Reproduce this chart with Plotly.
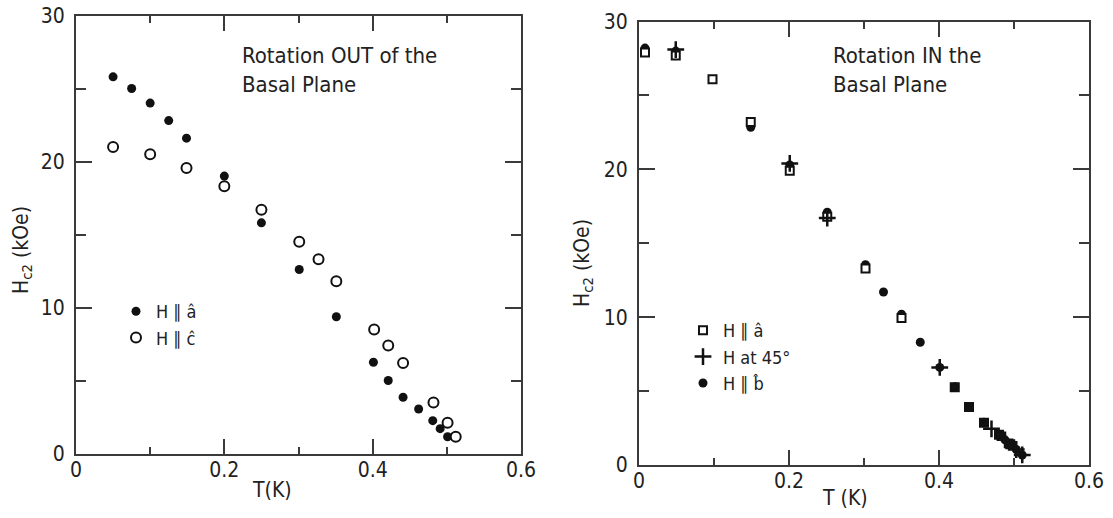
import plotly.graph_objects as go

# ---------------- data ----------------
# Left panel: rotation OUT of the basal plane
left_T_a = [0.050, 0.075, 0.100, 0.125, 0.149, 0.200, 0.250, 0.301, 0.351, 0.401,
            0.421, 0.441, 0.462, 0.481, 0.491, 0.501]
left_H_a = [25.8, 25.0, 24.0, 22.8, 21.6, 19.0, 15.8, 12.6, 9.37, 6.25,
            5.0, 3.85, 3.05, 2.25, 1.7, 1.15]
left_T_c = [0.050, 0.100, 0.149, 0.200, 0.250, 0.301, 0.327, 0.351, 0.402, 0.421,
            0.441, 0.482, 0.501, 0.512]
left_H_c = [21.0, 20.5, 19.55, 18.3, 16.7, 14.5, 13.3, 11.8, 8.5, 7.4,
            6.2, 3.5, 2.1, 1.15]

# Right panel: rotation IN the basal plane
right_T_a = [0.008, 0.049, 0.098, 0.149, 0.201, 0.251, 0.302, 0.350, 0.421, 0.440,
             0.460, 0.480, 0.495]
right_H_a = [27.9, 27.7, 26.1, 23.2, 19.9, 16.8, 13.3, 9.95, 5.26, 3.92,
             2.86, 2.05, 1.4]
right_T_b = [0.008, 0.049, 0.149, 0.201, 0.251, 0.302, 0.326, 0.350, 0.375, 0.401,
             0.421, 0.440, 0.460, 0.488, 0.503, 0.511]
right_H_b = [28.2, 28.0, 22.85, 20.3, 17.1, 13.55, 11.7, 10.2, 8.3, 6.6,
             5.3, 3.95, 2.9, 1.7, 1.05, 0.68]
right_T_45 = [0.049, 0.201, 0.251, 0.401, 0.470, 0.488, 0.503, 0.511]
right_H_45 = [28.1, 20.4, 16.7, 6.6, 2.45, 1.7, 1.05, 0.68]

x_ticks = [0, 0.2, 0.4, 0.6]
x_tick_text = ["0", "0.2", "0.4", "0.6"]
x_minor = [0.1, 0.3, 0.5]
y_ticks = [0, 10, 20, 30]
y_tick_text = ["0", "10", "20", "30"]
y_minor = [5, 15, 25]

left_title = "Rotation OUT of the<br>Basal Plane"
right_title = "Rotation IN the<br>Basal Plane"
left_x_label = "T(K)"
right_x_label = "T (K)"
y_label = "H<sub>c2</sub> (kOe)"

# ---------------- styling ----------------
W, H = 1113, 518
FONT = "Liberation Sans Narrow, DejaVu Sans Condensed, Arial Narrow, Liberation Sans, sans-serif"
INK = "#111111"
AX = "#3a3a3a"


def px_x(p):
    return p / W


def px_y(p):
    return 1 - p / H


fig = go.Figure()

# left panel
fig.add_trace(go.Scatter(x=left_T_a, y=left_H_a, mode="markers", name="H ∥ â",
                         marker=dict(symbol="circle", size=9, color=INK, line=dict(width=0)),
                         xaxis="x", yaxis="y", legend="legend"))
fig.add_trace(go.Scatter(x=left_T_c, y=left_H_c, mode="markers", name="H ∥ ĉ",
                         marker=dict(symbol="circle", size=10, color="white",
                                     line=dict(width=2, color=INK)),
                         xaxis="x", yaxis="y", legend="legend"))

# right panel: circles first, squares over them, crosses on top
sq_fill = [INK if t > 0.41 else "white" for t in right_T_a]
fig.add_trace(go.Scatter(x=right_T_b, y=right_H_b, mode="markers", name="H ∥ b̂",
                         marker=dict(symbol="circle", size=9, color=INK, line=dict(width=0)),
                         xaxis="x2", yaxis="y2", legend="legend2", legendrank=3))
fig.add_trace(go.Scatter(x=right_T_a, y=right_H_a, mode="markers", name="H ∥ â",
                         marker=dict(symbol="square", size=8, color=sq_fill,
                                     line=dict(width=2, color=INK)),
                         xaxis="x2", yaxis="y2", legend="legend2", legendrank=1))
fig.add_trace(go.Scatter(x=right_T_45, y=right_H_45, mode="markers", name="H at 45°",
                         marker=dict(symbol="cross-thin", size=12, color=INK,
                                     line=dict(width=2.5, color=INK)),
                         xaxis="x2", yaxis="y2", legend="legend2", legendrank=2))

common_x = dict(range=[0, 0.6], tickvals=x_ticks, ticktext=x_tick_text, automargin=False,
                ticks="inside", ticklen=15, tickwidth=1.5, tickcolor=AX,
                minor=dict(tickvals=x_minor, ticks="inside", ticklen=7, tickwidth=1.5, tickcolor=AX),
                showline=True, linecolor=AX, linewidth=2, mirror="allticks",
                showgrid=False, zeroline=False, fixedrange=True, ticklabelstandoff=-4,
                tickfont=dict(family=FONT, size=21, color="#222"))
common_y = dict(range=[0, 30], tickvals=y_ticks, ticktext=y_tick_text, automargin=False,
                ticks="inside", ticklen=16, tickwidth=1.5, tickcolor=AX,
                minor=dict(tickvals=y_minor, ticks="inside", ticklen=10, tickwidth=1.5, tickcolor=AX),
                showline=True, linecolor=AX, linewidth=2, mirror="allticks",
                showgrid=False, zeroline=False, fixedrange=True, ticklabelstandoff=5,
                tickfont=dict(family=FONT, size=21, color="#222"))

fig.update_layout(
    width=W, height=H, autosize=False,
    margin=dict(l=0, r=0, t=0, b=0, pad=0, autoexpand=False),
    paper_bgcolor="white", plot_bgcolor="white",
    font=dict(family=FONT, color="#222"),
    xaxis=dict(domain=[px_x(76), px_x(521)], anchor="y", **common_x),
    yaxis=dict(domain=[px_y(453.5), px_y(15.5)], anchor="x", **common_y),
    xaxis2=dict(domain=[px_x(639), px_x(1089)], anchor="y2", **common_x),
    yaxis2=dict(domain=[px_y(465), px_y(21.5)], anchor="x2", **common_y),
    legend=dict(x=px_x(116), xanchor="left", y=px_y(293), yanchor="top",
                bgcolor="rgba(0,0,0,0)", font=dict(family=FONT, size=18, color="#222"),
                itemsizing="trace", tracegroupgap=0),
    legend2=dict(x=px_x(683), xanchor="left", y=px_y(312), yanchor="top",
                 bgcolor="rgba(0,0,0,0)", font=dict(family=FONT, size=18, color="#222"),
                 itemsizing="trace", tracegroupgap=0),
    annotations=[
        dict(text=left_title, xref="paper", yref="paper", x=px_x(240), y=px_y(70),
             xanchor="left", yanchor="middle", align="left", showarrow=False,
             font=dict(family=FONT, size=22, color="#222")),
        dict(text=right_title, xref="paper", yref="paper", x=px_x(831), y=px_y(70),
             xanchor="left", yanchor="middle", align="left", showarrow=False,
             font=dict(family=FONT, size=22, color="#222")),
        dict(text=left_x_label, xref="paper", yref="paper", x=px_x(272), y=px_y(490),
             xanchor="center", yanchor="middle", showarrow=False,
             font=dict(family=FONT, size=21, color="#222")),
        dict(text=right_x_label, xref="paper", yref="paper", x=px_x(845), y=px_y(498),
             xanchor="center", yanchor="middle", showarrow=False,
             font=dict(family=FONT, size=21, color="#222")),
        dict(text=y_label, xref="paper", yref="paper", x=px_x(22), y=px_y(250),
             xanchor="center", yanchor="middle", textangle=-90, showarrow=False,
             font=dict(family=FONT, size=21, color="#222")),
        dict(text=y_label, xref="paper", yref="paper", x=px_x(583), y=px_y(263),
             xanchor="center", yanchor="middle", textangle=-90, showarrow=False,
             font=dict(family=FONT, size=21, color="#222")),
    ],
)

fig.write_html("out.html")
